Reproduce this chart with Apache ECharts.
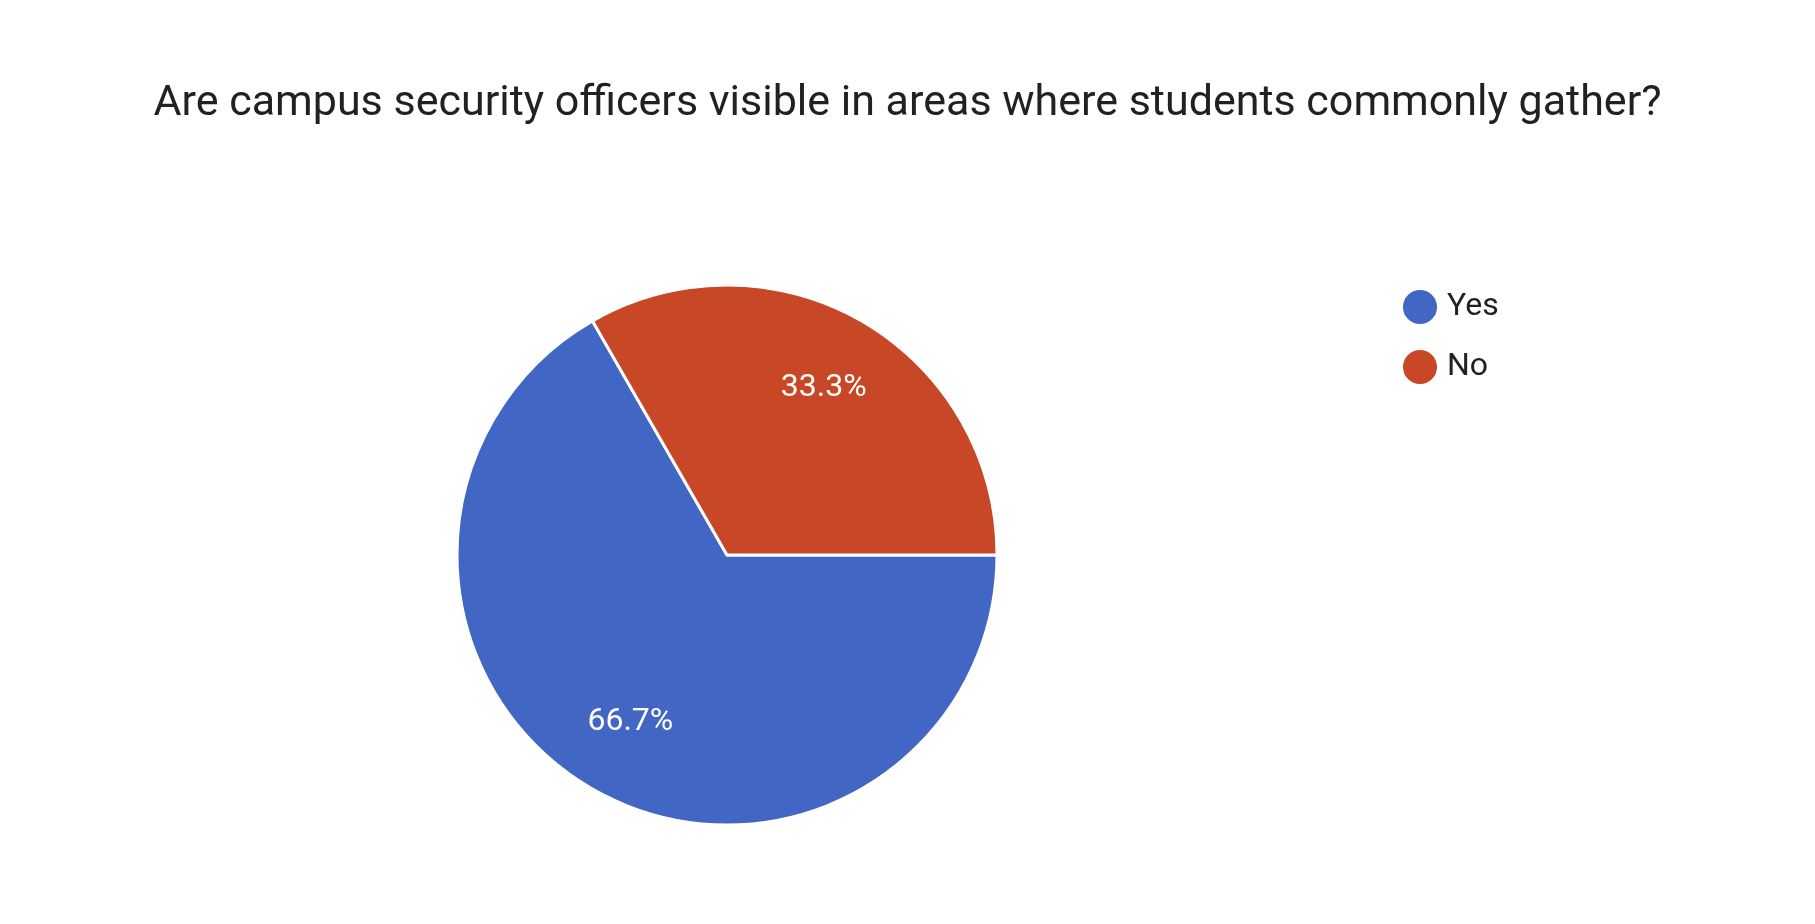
<!DOCTYPE html>
<html><head><meta charset="utf-8">
<script src="https://cdn.jsdelivr.net/npm/echarts@6/dist/echarts.min.js"></script>
<style>html,body{margin:0;padding:0;background:#fff}#c{width:1815px;height:924px}</style>
</head><body><div id="c"></div>
<script>
const categories = ['Yes', 'No'];
const values = [66.7, 33.3];
const colors = ['#4166c4', '#c84727'];
const titleText = 'Are campus security officers visible in areas where students commonly gather?';

const data = categories.map((n, i) => ({ name: n, value: values[i], itemStyle: { color: colors[i] } }));
const chart = echarts.init(document.getElementById('c'));
chart.setOption({
  animation: false,
  title: { text: titleText, left: 'center', top: 78,
    textStyle: { fontFamily: 'Roboto', fontWeight: 'normal', fontSize: 43, color: '#212121' } },
  legend: { orient: 'vertical', left: 1396, top: 283, icon: 'circle', itemWidth: 36, itemHeight: 36, itemGap: 22,
    textStyle: { fontFamily: 'Roboto', fontSize: 32, color: '#212121', padding: [0, 0, 0, 4] }, data: categories },
  series: [
    { type: 'pie', center: [727, 555], radius: 270, startAngle: 0, clockwise: true,
      itemStyle: { borderColor: '#fff', borderWidth: 3 }, label: { show: false }, labelLine: { show: false },
      data: data },
    { type: 'pie', center: [727, 555], radius: 380, startAngle: 0, clockwise: true, silent: true,
      itemStyle: { color: 'rgba(0,0,0,0)', borderWidth: 0 },
      label: { show: true, position: 'inside', formatter: p => p.value.toFixed(1) + '%',
        fontFamily: 'Roboto', fontSize: 32, color: '#fff' },
      labelLine: { show: false },
      data: categories.map((n, i) => ({ name: n, value: values[i], itemStyle: { color: 'rgba(0,0,0,0)' } })) }
  ]
});
</script></body></html>
